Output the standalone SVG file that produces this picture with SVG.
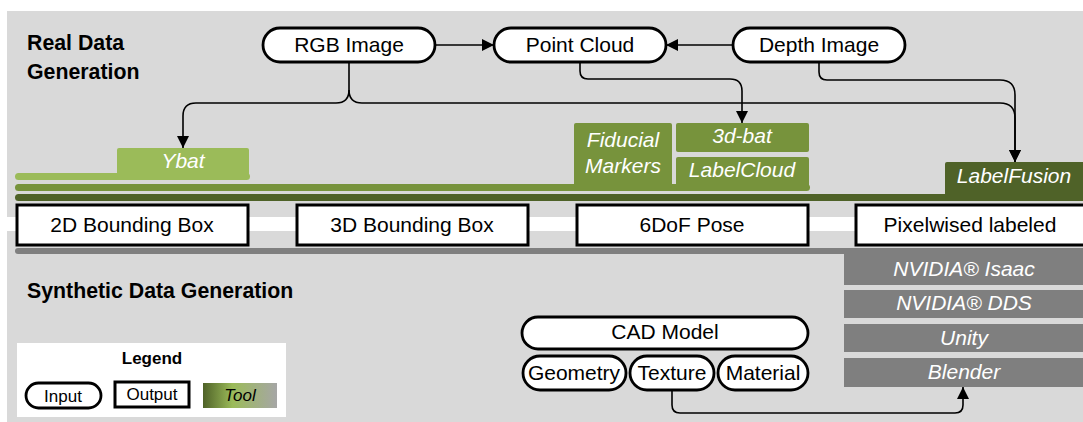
<svg xmlns="http://www.w3.org/2000/svg" width="1083" height="422" viewBox="0 0 1083 422">
  <style>
    .t { font-family: "Liberation Sans", Arial, sans-serif; font-size: 21px; fill: #000; text-anchor: middle; }
    .title { font-family: "Liberation Sans", Arial, sans-serif; font-size: 21.3px; font-weight: bold; fill: #000; }
    .tool { font-family: "Liberation Sans", Arial, sans-serif; font-size: 21px; font-style: italic; fill: #fff; text-anchor: middle; }
    .pill { fill: #fff; stroke: #000; stroke-width: 2.8; }
    .out { fill: #fff; stroke: #000; stroke-width: 3; }
    .edge { fill: none; stroke: #000; stroke-width: 1.6; }
    .lg { font-family: "Liberation Sans", Arial, sans-serif; font-size: 17px; fill: #000; text-anchor: middle; }
  </style>
  <defs>
    <marker id="arrow" markerUnits="userSpaceOnUse" markerWidth="12" markerHeight="12" viewBox="0 0 12 12" refX="12" refY="6" orient="auto">
      <path d="M0,0 L12,6 L0,12 Z" fill="#000"/>
    </marker>
    <linearGradient id="toolGrad" x1="0" y1="0" x2="1" y2="0">
      <stop offset="0" stop-color="#4F6228"/>
      <stop offset="0.4" stop-color="#9BBB59"/>
      <stop offset="1" stop-color="#A6A6A6"/>
    </linearGradient>
  </defs>

  <!-- background bands -->
  <rect x="0" y="0" width="1083" height="422" fill="#fff"/>
  <rect x="7" y="11" width="1076" height="206" fill="#D9D9D9"/>
  <rect x="7" y="231" width="1076" height="191" fill="#D9D9D9"/>

  <text class="title" x="27" y="50">Real Data</text>
  <text class="title" x="27" y="79">Generation</text>
  <text class="title" x="27" y="298">Synthetic Data Generation</text>

  <!-- tool rails -->
  <g id="rails">
    <rect x="15" y="173" width="235" height="7" rx="3.5" fill="#9BBB59"/>
    <rect x="15" y="184" width="795" height="7" rx="3.5" fill="#77933C"/>
    <rect x="15" y="194" width="1075" height="7" rx="3.5" fill="#4F6228"/>
    <rect x="15" y="248" width="1075" height="6" rx="3" fill="#7F7F7F"/>
  </g>

  <!-- real data tools -->
  <g id="tool-ybat">
    <rect x="117" y="148" width="132" height="30" rx="2" fill="#9BBB59"/>
    <text class="tool" x="183" y="168">Ybat</text>
  </g>
  <g id="tool-fiducial">
    <rect x="574" y="123" width="98" height="65" rx="2" fill="#77933C"/>
    <text class="tool" x="623" y="147">Fiducial</text>
    <text class="tool" x="623" y="173">Markers</text>
  </g>
  <g id="tool-3dbat">
    <rect x="676" y="123" width="133" height="29" rx="2" fill="#77933C"/>
    <text class="tool" x="742" y="143">3d-bat</text>
  </g>
  <g id="tool-labelcloud">
    <rect x="676" y="157" width="133" height="33" rx="2" fill="#77933C"/>
    <text class="tool" x="742" y="177">LabelCloud</text>
  </g>
  <g id="tool-labelfusion">
    <rect x="945" y="162" width="145" height="36" rx="2" fill="#4F6228"/>
    <text class="tool" x="1014" y="183">LabelFusion</text>
  </g>

  <!-- synthetic data tools -->
  <g id="tool-isaac">
    <rect x="844" y="251" width="246" height="34" fill="#7F7F7F"/>
    <text class="tool" x="964" y="276">NVIDIA® Isaac</text>
  </g>
  <g id="tool-dds">
    <rect x="844" y="290" width="246" height="28" fill="#7F7F7F"/>
    <text class="tool" x="964" y="310">NVIDIA® DDS</text>
  </g>
  <g id="tool-unity">
    <rect x="844" y="324" width="246" height="28" fill="#7F7F7F"/>
    <text class="tool" x="964" y="345">Unity</text>
  </g>
  <g id="tool-blender">
    <rect x="844" y="358" width="246" height="29" fill="#7F7F7F"/>
    <text class="tool" x="964" y="379">Blender</text>
  </g>

  <!-- inputs -->
  <g id="rgb-image">
    <rect class="pill" x="263" y="28" width="172" height="34" rx="17"/>
    <text class="t" x="349" y="52">RGB Image</text>
  </g>
  <g id="point-cloud">
    <rect class="pill" x="494" y="28" width="172" height="34" rx="17"/>
    <text class="t" x="580" y="52">Point Cloud</text>
  </g>
  <g id="depth-image">
    <rect class="pill" x="733" y="28" width="172" height="34" rx="17"/>
    <text class="t" x="819" y="52">Depth Image</text>
  </g>
  <g id="cad-model">
    <rect class="pill" x="522" y="317" width="286" height="32" rx="16"/>
    <text class="t" x="665" y="339">CAD Model</text>
  </g>
  <g id="geometry">
    <rect class="pill" x="523" y="356" width="103" height="34" rx="17"/>
    <text class="t" x="574" y="380">Geometry</text>
  </g>
  <g id="texture">
    <rect class="pill" x="630" y="356" width="84" height="34" rx="17"/>
    <text class="t" x="672" y="380">Texture</text>
  </g>
  <g id="material">
    <rect class="pill" x="718" y="356" width="90" height="34" rx="17"/>
    <text class="t" x="763" y="380">Material</text>
  </g>

  <!-- outputs -->
  <g id="bbox-2d">
    <rect class="out" x="17" y="205" width="231" height="40"/>
    <text class="t" x="132" y="232">2D Bounding Box</text>
  </g>
  <g id="bbox-3d">
    <rect class="out" x="297" y="205" width="231" height="40"/>
    <text class="t" x="412" y="232">3D Bounding Box</text>
  </g>
  <g id="pose-6dof">
    <rect class="out" x="577" y="205" width="231" height="40"/>
    <text class="t" x="692" y="232">6DoF Pose</text>
  </g>
  <g id="pixelwise">
    <rect class="out" x="856" y="205" width="240" height="40"/>
    <text class="t" x="970" y="232">Pixelwised labeled</text>
  </g>

  <!-- connectors -->
  <g id="connectors">
    <path class="edge" d="M435,45 H494" marker-end="url(#arrow)"/>
    <path class="edge" d="M733,45 H666" marker-end="url(#arrow)"/>
    <path class="edge" d="M349,62 V90 Q349,103 336,103 H196 Q183,103 183,116 V148" marker-end="url(#arrow)"/>
    <path class="edge" d="M349,90 Q349,103 362,103 H1000 Q1015,103 1015,118 V162" marker-end="url(#arrow)"/>
    <path class="edge" d="M580,62 V71 Q580,79 588,79 H730 Q742,79 742,91 V123" marker-end="url(#arrow)"/>
    <path class="edge" d="M819,62 V72 Q819,80 827,80 H1000 Q1015,80 1015,95 V162" marker-end="url(#arrow)"/>
    <path class="edge" d="M672,390 V405 Q672,413 680,413 H955 Q963,413 963,405 V387" marker-end="url(#arrow)"/>
  </g>

  <!-- legend -->
  <g id="legend">
    <rect x="17" y="343" width="269" height="74" fill="#fff"/>
    <text class="lg" x="152" y="364" font-weight="bold">Legend</text>
    <rect class="pill" x="26" y="383" width="75" height="25" rx="12.5" stroke-width="2.5"/>
    <text class="lg" x="63" y="402">Input</text>
    <rect class="out" x="115" y="382" width="74" height="25" stroke-width="2.5"/>
    <text class="lg" x="152" y="400">Output</text>
    <rect x="203" y="383" width="74" height="25" fill="url(#toolGrad)"/>
    <text class="lg" x="240" y="401" font-style="italic" fill="#fff">Tool</text>
  </g>
</svg>
